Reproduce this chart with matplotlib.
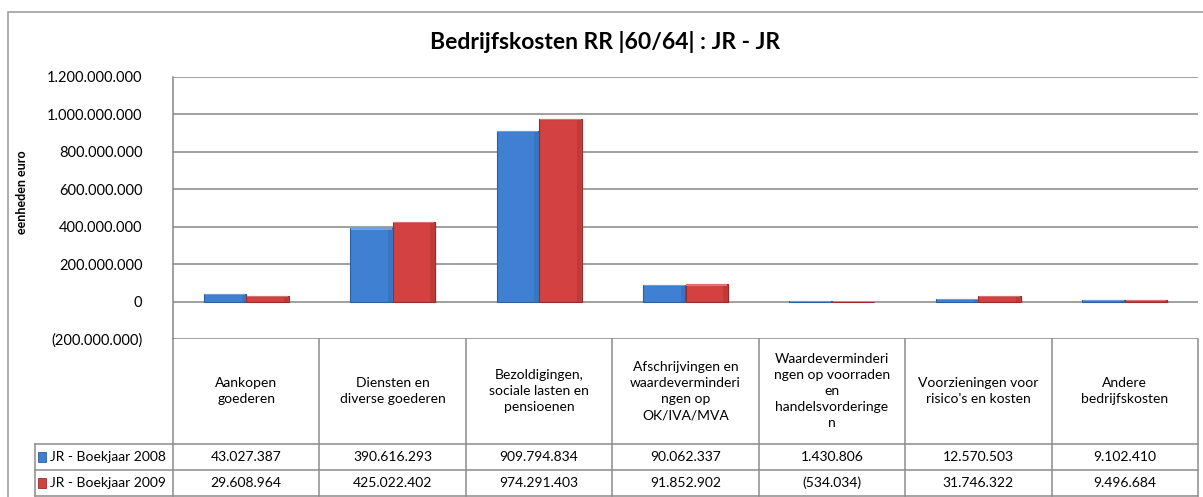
import numpy as np
import matplotlib
matplotlib.use("Agg")
import matplotlib.pyplot as plt
from matplotlib.patches import Rectangle
from matplotlib.ticker import FuncFormatter

# Data
categories = [
    "Aankopen\ngoederen",
    "Diensten en\ndiverse goederen",
    "Bezoldigingen,\nsociale lasten en\npensioenen",
    "Afschrijvingen en\nwaardeverminderi\nngen op\nOK/IVA/MVA",
    "Waardeverminderi\nngen op voorraden\nen\nhandelsvorderinge\nn",
    "Voorzieningen voor\nrisico's en kosten",
    "Andere\nbedrijfskosten",
]
series_names = ["JR - Boekjaar 2008", "JR - Boekjaar 2009"]
values_2008 = [43027387, 390616293, 909794834, 90062337, 1430806, 12570503, 9102410]
values_2009 = [29608964, 425022402, 974291403, 91852902, -534034, 31746322, 9496684]
y_ticks = [-200000000, 0, 200000000, 400000000, 600000000, 800000000, 1000000000, 1200000000]

plt.rcParams['font.family'] = ['Lato', 'DejaVu Sans']

W, H = 1203, 497
fig = plt.figure(figsize=(W / 100, H / 100), dpi=100)


def fx(px):
    return px / W


def fy(py):
    return 1 - py / H


def fmt(v):
    s = f"{abs(int(round(v))):,}".replace(",", ".")
    return f"({s})" if v < 0 else s


grid_col = "#868686"
line_col = "#8c8c8c"

# outer chart border
fig.patches.append(Rectangle((fx(8), fy(520)), fx(1230) - fx(8), fy(12) - fy(520),
                             transform=fig.transFigure, fill=False,
                             edgecolor="#a0a0a0", linewidth=1.2, zorder=0))

# main plot area
left, right, top, bottom = 173, 1198, 77, 339
ax = fig.add_axes([fx(left), fy(bottom), fx(right) - fx(left), fy(top) - fy(bottom)])
n = len(categories)
x = np.arange(n)
w = 0.29

colors = {"2008": ("#3f80d2", "#2c5f9e", "#86b4ec"),
          "2009": ("#d44141", "#982c2c", "#ee8a8a")}

for vals, off, key in [(values_2008, -w / 2, "2008"), (values_2009, w / 2, "2009")]:
    face, dark, light = colors[key]
    vals = np.array(vals, dtype=float)
    # soft shadow under bars
    ax.bar(x + off + 0.012, vals, width=w, bottom=-5e6, color="#000000", alpha=0.07,
           linewidth=0, zorder=2)
    ax.bar(x + off, vals, width=w, color=face, edgecolor=dark, linewidth=0.8, zorder=3)
    # slightly darker right side for the bevel look
    ax.bar(x + off + w * 0.44, vals, width=w * 0.1, color=dark, alpha=0.3,
           linewidth=0, zorder=4)
    # light top highlight
    cap = np.sign(vals) * np.minimum(np.abs(vals), 6e6)
    ax.bar(x + off, cap, width=w * 0.96, bottom=vals - cap, color=light, alpha=0.75,
           linewidth=0, zorder=4)

ax.set_xlim(-0.5, n - 0.5)
ax.set_ylim(y_ticks[0], y_ticks[-1])
ax.set_yticks(y_ticks)
ax.yaxis.set_major_formatter(FuncFormatter(lambda v, p: fmt(v)))
ax.tick_params(axis="y", length=0, pad=22, labelsize=10.5)
ax.set_xticks([])
ax.grid(axis="y", color=grid_col, linewidth=1.1, zorder=1)
for s in ["top", "right", "bottom"]:
    ax.spines[s].set_visible(False)
ax.spines["left"].set_color(grid_col)
ax.spines["left"].set_linewidth(1.1)

# title and axis label
fig.text(fx(605), fy(42), "Bedrijfskosten RR |60/64| : JR - JR", ha="center", va="center",
         fontsize=16.5, fontweight="bold")
fig.text(fx(22), fy(192), "eenheden euro", rotation=90, ha="center", va="center",
         fontsize=9, fontweight="bold")

# data table below the plot
tleft, tbottom = 35, 496
x0 = -0.5 - (left - tleft) / ((right - left) / n)
tab = fig.add_axes([fx(tleft), fy(tbottom), fx(right) - fx(tleft), fy(bottom) - fy(tbottom)])
tab.set_xlim(x0, n - 0.5)
tab.set_ylim(157, 0)
tab.axis("off")

kw = dict(color=line_col, linewidth=1.1, clip_on=False)
for k in range(n + 1):
    tab.plot([k - 0.5, k - 0.5], [0, 157], **kw)
tab.plot([x0, x0], [105, 157], **kw)
for yy in [105, 131, 157]:
    tab.plot([x0, n - 0.5], [yy, yy], **kw)

for i, cat in enumerate(categories):
    tab.text(i, 52, cat, ha="center", va="center", fontsize=10, linespacing=1.42)
    tab.text(i, 118, fmt(values_2008[i]), ha="center", va="center", fontsize=10)
    tab.text(i, 144, fmt(values_2009[i]), ha="center", va="center", fontsize=10)

for yy, name, key in [(118, series_names[0], "2008"), (144, series_names[1], "2009")]:
    face, dark, light = colors[key]
    tab.add_patch(Rectangle((x0 + 0.02, yy - 5), 0.055, 10, facecolor=face,
                            edgecolor=dark, linewidth=0.6, clip_on=False))
    tab.text(x0 + 0.1, yy, name, ha="left", va="center", fontsize=10)

fig.savefig("out.png", dpi=100)
